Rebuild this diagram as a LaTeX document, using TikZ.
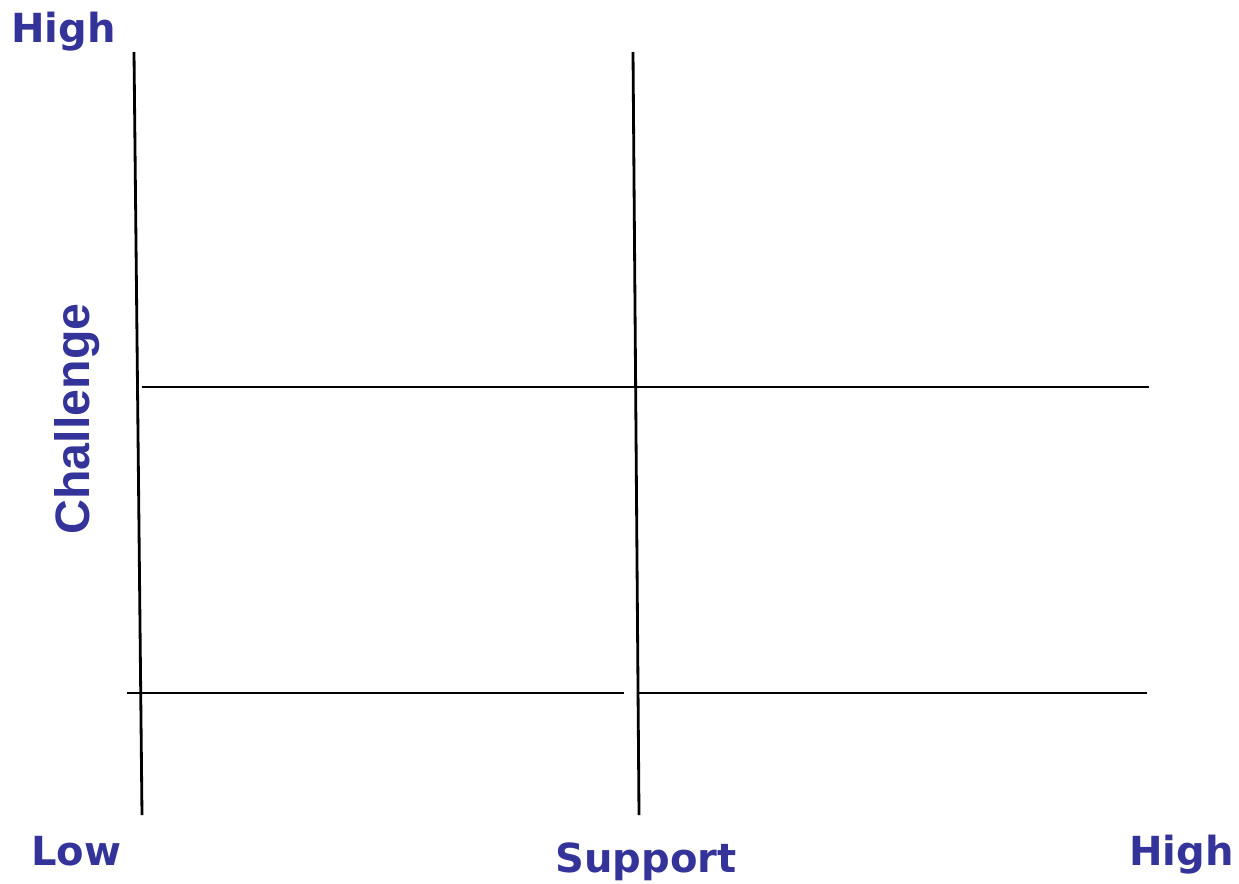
\documentclass[tikz,border=0pt]{standalone}
\usepackage{fontspec}
\usepackage{tikz}
\usetikzlibrary{positioning}
\newfontfamily\axisfont{DejaVu Sans}
\newfontfamily\chalfont{Liberation Sans}
\definecolor{axisblue}{RGB}{51,51,153}

\tikzset{
  lbl/.style={font=\axisfont\bfseries\fontsize{22.8}{26}\selectfont, text=axisblue, inner sep=0pt},
  gridline/.style={line width=1.6pt, black}
}

\begin{document}
\begin{tikzpicture}[x=0.02cm, y=-0.02cm]
\useasboundingbox (0,0) rectangle (1239,883);

% grid lines
\coordinate (lt) at (134,52);
\coordinate (lb) at (142,815);
\coordinate (mt) at (633,52);
\coordinate (mb) at (639,815);
\coordinate (ul) at (142,387);
\coordinate (ur) at (1149,387);
\coordinate (dl) at (127,693);
\coordinate (dm1) at (624,693);
\coordinate (dm2) at (639,693);
\coordinate (dr) at (1147,693);

\draw[gridline] (lt) -- (lb);
\draw[gridline] (mt) -- (mb);
\draw[gridline] (ul) -- (ur);
\draw[gridline] (dl) -- (dm1);
\draw[gridline] (dm2) -- (dr);

% labels
\node[lbl, anchor=base west] (hightop) at (11,42) {High};
\node[lbl, anchor=base west] (low) at (31,865) {Low};
\node[lbl, anchor=base] (support) at (646,872) {Support};
\node[lbl, anchor=base east] (highright) at (1234,865) {High};
\node[lbl, font=\chalfont\bfseries\fontsize{27.5}{30}\selectfont, rotate=90, anchor=base] (challenge) at (89,419) {Challenge};
\end{tikzpicture}
\end{document}
